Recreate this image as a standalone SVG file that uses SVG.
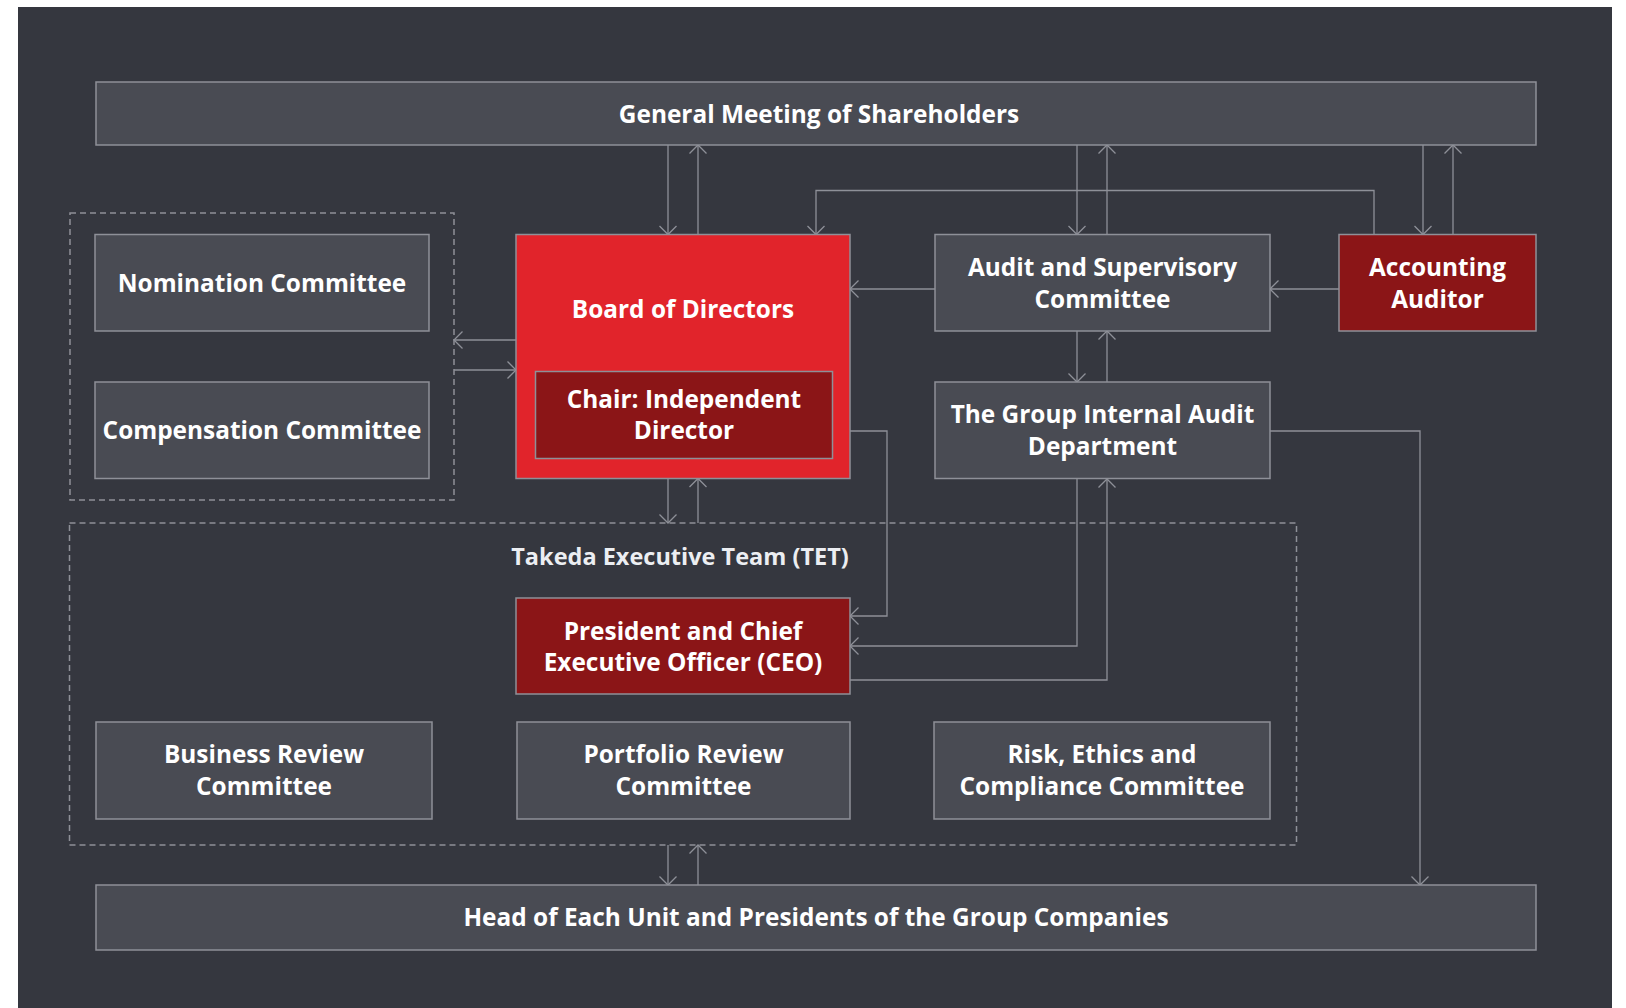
<svg xmlns="http://www.w3.org/2000/svg" width="1626" height="1008" viewBox="0 0 1626 1008">
<defs>
<marker id="ah" viewBox="0 0 20 20" refX="10" refY="10" markerWidth="20" markerHeight="20" markerUnits="userSpaceOnUse" orient="auto">
<path d="M1.5,1.5 L10,10 L1.5,18.5" fill="none" stroke="#8e9098" stroke-width="1.3"/>
</marker>
<style>
.box{fill:#494b53;stroke:#8e9098;stroke-width:1.5}
.red{fill:#e1242b;stroke:#8e9098;stroke-width:1.5}
.dred{fill:#8b1517;stroke:#8e9098;stroke-width:1.5}
.dash{fill:none;stroke:#8e9098;stroke-width:1.5;stroke-dasharray:6 4}
.ln{fill:none;stroke:#8e9098;stroke-width:1.3;marker-end:url(#ah)}
text{font-family:"Open Sans","Noto Sans","Liberation Sans",sans-serif;font-weight:bold;font-size:24.4px;fill:#ffffff;text-anchor:middle}
text.lbl{font-size:23.5px;fill:#eceef2}
</style>
</defs>
<rect x="0" y="0" width="1626" height="1008" fill="#ffffff"/>
<rect x="18" y="7" width="1594" height="1001" fill="#35373f"/>

<g id="groups">
<rect id="committees-group" class="dash" x="70" y="213" width="384" height="287"/>
<g id="tet">
<rect class="dash" x="69.5" y="523" width="1227" height="322"/>
<text class="lbl" x="680" y="565">Takeda Executive Team (TET)</text>
</g>
</g>

<g id="connectors">
<line class="ln" x1="668" y1="145" x2="668" y2="234.5"/>
<line class="ln" x1="698" y1="234.5" x2="698" y2="145"/>
<line class="ln" x1="1077" y1="145" x2="1077" y2="234.5"/>
<line class="ln" x1="1107" y1="234.5" x2="1107" y2="145"/>
<line class="ln" x1="1423" y1="145" x2="1423" y2="234.5"/>
<line class="ln" x1="1453" y1="234.5" x2="1453" y2="145"/>
<polyline class="ln" points="1374,234.5 1374,190.5 816,190.5 816,234.5"/>
<line class="ln" x1="935" y1="289" x2="850" y2="289"/>
<line class="ln" x1="1339" y1="289" x2="1270" y2="289"/>
<line class="ln" x1="1077" y1="331" x2="1077" y2="382"/>
<line class="ln" x1="1107" y1="382" x2="1107" y2="331"/>
<line class="ln" x1="516" y1="340" x2="454" y2="340"/>
<line class="ln" x1="454" y1="370" x2="516" y2="370"/>
<line class="ln" x1="668" y1="478.5" x2="668" y2="523"/>
<line class="ln" x1="698" y1="523" x2="698" y2="478.5"/>
<polyline class="ln" points="850,431 887,431 887,616 850,616"/>
<polyline class="ln" points="1077,479 1077,646 850,646"/>
<polyline class="ln" points="850,680 1107,680 1107,479"/>
<polyline class="ln" points="1270,431 1420,431 1420,885"/>
<line class="ln" x1="668" y1="845" x2="668" y2="885"/>
<line class="ln" x1="698" y1="885" x2="698" y2="845"/>
</g>

<g id="gm">
<rect class="box" x="96" y="82" width="1440" height="63"/>
<text x="819" y="123">General Meeting of Shareholders</text>
</g>
<g id="nomination">
<rect class="box" x="95" y="234.5" width="334" height="96.5"/>
<text x="262" y="291.5">Nomination Committee</text>
</g>
<g id="compensation">
<rect class="box" x="95" y="382" width="334" height="96.5"/>
<text x="262" y="438.5">Compensation Committee</text>
</g>
<g id="board">
<rect class="red" x="516" y="234.5" width="334" height="244"/>
<text x="683" y="318.3">Board of Directors</text>
</g>
<g id="chair">
<rect class="dred" x="535.5" y="371.5" width="297" height="87"/>
<text x="684" y="407.7">Chair: Independent</text>
<text x="684" y="439.3">Director</text>
</g>
<g id="audit">
<rect class="box" x="935" y="234.5" width="335" height="96.5"/>
<text x="1102.5" y="276">Audit and Supervisory</text>
<text x="1102.5" y="307.5">Committee</text>
</g>
<g id="accounting">
<rect class="dred" x="1339" y="234.5" width="197" height="96.5"/>
<text x="1437.5" y="276">Accounting</text>
<text x="1437.5" y="307.5">Auditor</text>
</g>
<g id="internal">
<rect class="box" x="935" y="382" width="335" height="96.5"/>
<text x="1102.5" y="422.7">The Group Internal Audit</text>
<text x="1102.5" y="455">Department</text>
</g>
<g id="ceo">
<rect class="dred" x="516" y="598" width="334" height="96"/>
<text x="683" y="639.5">President and Chief</text>
<text x="683" y="671">Executive Officer (CEO)</text>
</g>
<g id="business">
<rect class="box" x="96" y="722" width="336" height="97"/>
<text x="264" y="762.7">Business Review</text>
<text x="264" y="794.5">Committee</text>
</g>
<g id="portfolio">
<rect class="box" x="517" y="722" width="333" height="97"/>
<text x="683.5" y="762.7">Portfolio Review</text>
<text x="683.5" y="794.5">Committee</text>
</g>
<g id="risk">
<rect class="box" x="934" y="722" width="336" height="97"/>
<text x="1102" y="762.7">Risk, Ethics and</text>
<text x="1102" y="794.5">Compliance Committee</text>
</g>
<g id="head">
<rect class="box" x="96" y="885" width="1440" height="65"/>
<text x="816" y="925.5">Head of Each Unit and Presidents of the Group Companies</text>
</g>
</svg>
